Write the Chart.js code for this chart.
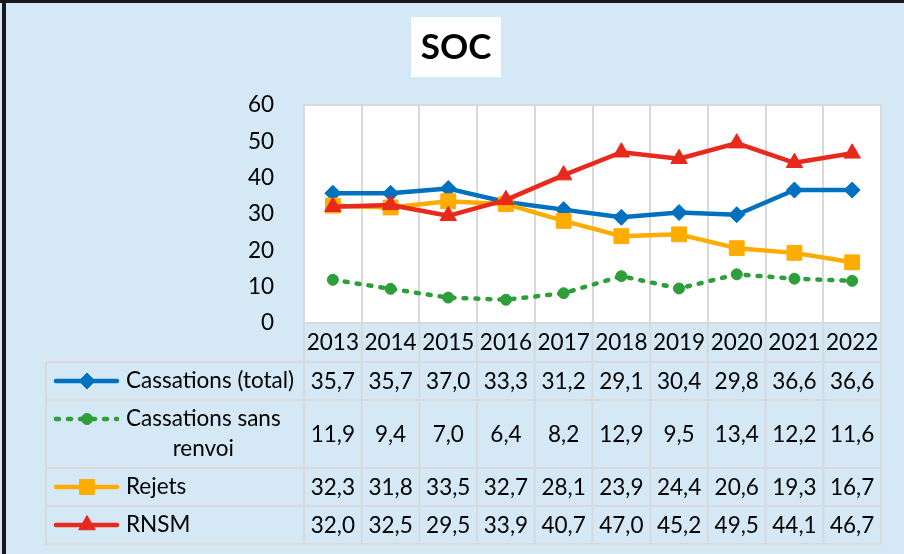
<!DOCTYPE html>
<html>
<head>
<meta charset="utf-8">
<script src="https://cdn.jsdelivr.net/npm/chart.js@4/dist/chart.umd.min.js"></script>
<style>
  html, body { margin: 0; padding: 0; background: #D4E8F6; }
  #wrap { width: 904px; height: 554px; position: relative; }
</style>
</head>
<body>
<div id="wrap"><canvas id="chart" width="904" height="554"></canvas></div>
<script>
const years = ["2013", "2014", "2015", "2016", "2017", "2018", "2019", "2020", "2021", "2022"];
const cassTotal = [35.7, 35.7, 37.0, 33.3, 31.2, 29.1, 30.4, 29.8, 36.6, 36.6];
const cassSansRenvoi = [11.9, 9.4, 7.0, 6.4, 8.2, 12.9, 9.5, 13.4, 12.2, 11.6];
const rejets = [32.3, 31.8, 33.5, 32.7, 28.1, 23.9, 24.4, 20.6, 19.3, 16.7];
const rnsm = [32.0, 32.5, 29.5, 33.9, 40.7, 47.0, 45.2, 49.5, 44.1, 46.7];
const yMin = 0, yMax = 60, yStep = 10;
const title = "SOC";

const FONT = "Lato, 'Open Sans', sans-serif";
const FSIZE = 22.5;
const BG = "#D4E8F6";
const GRID = "#D9D9D9";

// table rows under the plot (y bounds of each row)
const rowBounds = [362, 400, 468, 506, 544];
const tableLeft = 46;

const series = [
  { label: "Cassations (total)", lines: ["Cassations (total)"], data: cassTotal, color: "#0070C0", style: "rectRot", radius: 8, dash: [] },
  { label: "Cassations sans renvoi", lines: ["Cassations sans", "renvoi"], data: cassSansRenvoi, color: "#2E9E3A", style: "circle", radius: 5.5, dash: [3, 9] },
  { label: "Rejets", lines: ["Rejets"], data: rejets, color: "#FFAC00", style: "rect", radius: 10.5, dash: [] },
  { label: "RNSM", lines: ["RNSM"], data: rnsm, color: "#E8291C", style: "triangle", radius: 9.5, dash: [] }
];

const fmt = v => v.toFixed(1).replace(".", ",");

function marker(ctx, s, x, y) {
  ctx.save();
  ctx.setLineDash([]);
  ctx.fillStyle = s.color;
  ctx.strokeStyle = s.color;
  ctx.lineWidth = 1;
  if (Chart.helpers && Chart.helpers.drawPoint) {
    Chart.helpers.drawPoint(ctx, { pointStyle: s.style, radius: s.radius, rotation: 0, borderWidth: 1 }, x, y);
  }
  ctx.restore();
}

// background, frame, title and white plot area
const framePlugin = {
  id: "frame",
  beforeDraw(chart) {
    const { ctx, chartArea: a } = chart;
    ctx.save();
    ctx.fillStyle = BG;
    ctx.fillRect(0, 0, chart.width, chart.height);
    ctx.fillStyle = "#1A1A1A";
    ctx.fillRect(2, 0, 4, chart.height);
    ctx.fillRect(0, 0, chart.width, 3);
    ctx.fillStyle = "#FFFFFF";
    ctx.fillRect(a.left, a.top, a.right - a.left, a.bottom - a.top);
    ctx.fillRect(411, 17, 90, 60);
    ctx.fillStyle = "#000";
    ctx.font = "bold 35px " + FONT;
    ctx.textAlign = "center";
    ctx.textBaseline = "middle";
    ctx.fillText(title, 456, 48);
    ctx.restore();
  },
  beforeDatasetsDraw(chart) {
    const { ctx, chartArea: a } = chart;
    ctx.save();
    ctx.strokeStyle = GRID;
    ctx.lineWidth = 2;
    ctx.strokeRect(a.left, a.top, a.right - a.left, a.bottom - a.top);
    ctx.restore();
  }
};

// data table with legend keys
const tablePlugin = {
  id: "dataTable",
  afterDraw(chart) {
    const { ctx, chartArea: a } = chart;
    const xs = chart.scales.x;
    const colW = (a.right - a.left) / years.length;
    const bottom = rowBounds[rowBounds.length - 1];
    ctx.save();
    ctx.strokeStyle = GRID;
    ctx.lineWidth = 2;
    ctx.beginPath();
    for (let i = 0; i <= years.length; i++) {
      const x = a.left + i * colW;
      ctx.moveTo(x, a.bottom);
      ctx.lineTo(x, bottom);
    }
    ctx.moveTo(tableLeft, rowBounds[0]);
    ctx.lineTo(tableLeft, bottom);
    rowBounds.forEach(y => { ctx.moveTo(tableLeft, y); ctx.lineTo(a.right, y); });
    ctx.stroke();

    ctx.font = FSIZE + "px " + FONT;
    ctx.fillStyle = "#000";
    ctx.textBaseline = "middle";
    series.forEach((s, r) => {
      const top = rowBounds[r], bot = rowBounds[r + 1];
      const mid = (top + bot) / 2;
      const keyY = s.lines.length > 1 ? top + 19 : mid;
      // legend key
      ctx.save();
      ctx.strokeStyle = s.color;
      ctx.lineWidth = s.dash.length ? 4.5 : 4.5;
      ctx.lineCap = "round";
      ctx.setLineDash(s.dash);
      ctx.beginPath();
      ctx.moveTo(56, keyY);
      ctx.lineTo(117, keyY);
      ctx.stroke();
      ctx.restore();
      marker(ctx, s, 87, keyY);
      // label
      if (s.lines.length > 1) {
        const w1 = ctx.measureText(s.lines[0]).width;
        const cx = 126 + w1 / 2;
        ctx.textAlign = "center";
        ctx.fillText(s.lines[0], cx, keyY);
        ctx.fillText(s.lines[1], cx, keyY + 30);
      } else {
        ctx.textAlign = "left";
        ctx.fillText(s.lines[0], 126, mid);
      }
      // values
      ctx.textAlign = "center";
      s.data.forEach((v, i) => {
        ctx.fillText(fmt(v), xs.getPixelForValue(i), mid + 1);
      });
    });
    ctx.restore();
  }
};

const ctx = document.getElementById("chart").getContext("2d");
const chart = new Chart(ctx, {
  type: "line",
  data: {
    labels: years,
    datasets: series.map((s, i) => ({
      label: s.label,
      data: s.data,
      borderColor: s.color,
      backgroundColor: s.color,
      borderWidth: 4.5,
      borderDash: s.dash,
      borderCapStyle: s.dash.length ? "round" : "butt",
      borderJoinStyle: "round",
      pointStyle: s.style,
      pointRadius: s.radius,
      pointBorderWidth: 1,
      pointBackgroundColor: s.color,
      pointBorderColor: s.color,
      tension: 0,
      fill: false,
      order: 4 - i
    }))
  },
  options: {
    responsive: false,
    animation: false,
    devicePixelRatio: 1,
    layout: { padding: { left: 0, top: 105, right: 23, bottom: 0 } },
    plugins: { legend: { display: false }, tooltip: { enabled: false }, title: { display: false } },
    scales: {
      x: {
        offset: true,
        grid: { offset: true, color: GRID, lineWidth: 2, drawTicks: false },
        border: { color: GRID, width: 2 },
        ticks: { font: { family: FONT, size: FSIZE }, color: "#000", padding: 6, maxRotation: 0, autoSkip: false },
        afterFit(scale) { scale.height = 231; }
      },
      y: {
        min: yMin,
        max: yMax,
        grid: { display: false, drawTicks: false },
        border: { color: GRID, width: 2 },
        ticks: { stepSize: yStep, font: { family: FONT, size: FSIZE }, color: "#000", padding: 30 },
        afterFit(scale) { scale.width = 304; }
      }
    }
  },
  plugins: [framePlugin, tablePlugin]
});
</script>
</body>
</html>
